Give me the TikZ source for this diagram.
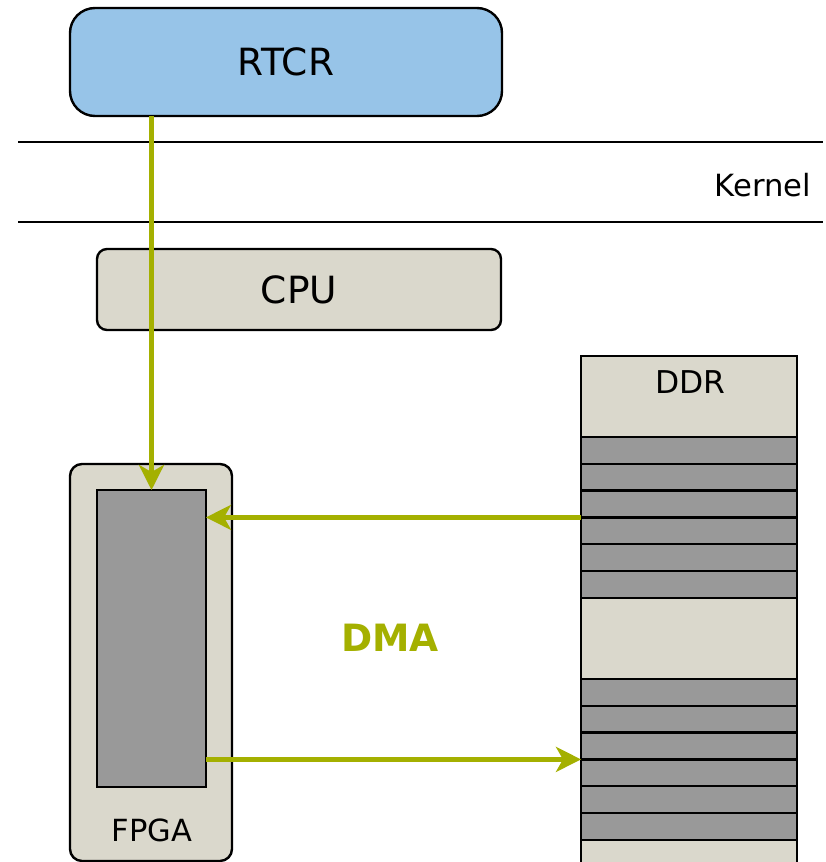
\documentclass[tikz,border=0pt]{standalone}
\usepackage{fontspec}
\setmainfont{DejaVu Sans}
\usetikzlibrary{arrows.meta}
\definecolor{rtcrblue}{HTML}{97C4E8}
\definecolor{hwbeige}{HTML}{DAD8CC}
\definecolor{blockgray}{HTML}{999999}
\definecolor{dmaolive}{HTML}{A4B000}
\tikzset{
  box/.style={draw=black, line width=2.4pt, inner sep=0pt, outer sep=0pt},
  stripe/.style={box, fill=blockgray, minimum width=216pt, minimum height=26.8pt},
  flow/.style={draw=dmaolive, line width=5pt,
    -{Stealth[length=25pt, width=25pt, inset=7pt]}},
  sep/.style={line width=2.2pt},
}
\newcommand{\txt}[1]{\fontsize{#1}{#1}\selectfont}
\begin{document}
\begin{tikzpicture}[x=1pt, y=-1pt]
  \useasboundingbox (0,0) rectangle (825,862);
  \clip (0,0) rectangle (825,862);

  % user space process
  \node[box, fill=rtcrblue, rounded corners=25pt, minimum width=432pt,
        minimum height=108pt] (rtcr) at (286,62) {\txt{37.5}RTCR};

  % kernel band
  \coordinate (k1w) at (18,142);
  \coordinate (k1e) at (823,142);
  \coordinate (k2w) at (18,222);
  \coordinate (k2e) at (823,222);
  \draw[sep] (k1w) -- (k1e);
  \draw[sep] (k2w) -- (k2e);
  \node[anchor=east, inner sep=0pt] (kernel) at (811,185) {\txt{30.6}Kernel};

  % processor
  \node[box, fill=hwbeige, rounded corners=10pt, minimum width=404pt,
        minimum height=81pt] (cpu) at (299,289.5) {\txt{37.5}CPU};

  % FPGA with its logic block
  \node[box, fill=hwbeige, rounded corners=12pt, minimum width=162pt,
        minimum height=397pt] (fpga) at (151,662.5) {};
  \node[box, fill=blockgray, minimum width=109pt, minimum height=297pt]
        (core) at (151.5,638.5) {};
  \node[inner sep=0pt] (fpgalabel) at (152,830) {\txt{30.5}FPGA};

  % memory
  \node[box, fill=hwbeige, minimum width=216pt, minimum height=530pt]
        (ddr) at (689,621) {};
  \node[inner sep=0pt] (ddrlabel) at (690.5,382) {\txt{31.4}DDR};
  \foreach \i in {1,...,6} {
    \node[stripe] (a\i) at (689,{437+26.8*(\i-0.5)}) {};
    \node[stripe] (b\i) at (689,{679+26.8*(\i-0.5)}) {};
  }

  % data flows
  \draw[flow] (core.north |- rtcr.south) -- (core.north);
  \draw[flow] (a3.south west) -- (core.east |- a3.south west);
  \draw[flow] (core.east |- b3.south west) -- (b3.south west);
  \node[text=dmaolive, font=\bfseries] (dma) at (390,638) {\txt{37.6}DMA};
\end{tikzpicture}
\end{document}
